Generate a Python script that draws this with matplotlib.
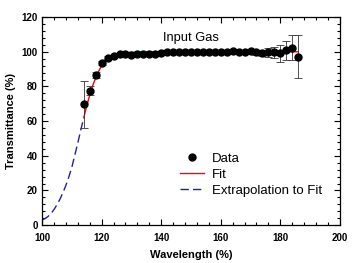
import numpy as np
import matplotlib.pyplot as plt
from matplotlib.ticker import MultipleLocator
from matplotlib.lines import Line2D

# measured data (every 2 nm from 114 to 186)
wl = np.arange(114, 188, 2)
trans = [69.6, 77.5, 86.6, 93.7, 96.5, 97.7, 98.5, 98.7, 98.2, 98.5, 98.7, 99.0,
         99.0, 99.4, 99.6, 99.7, 99.8, 99.9, 100.0, 100.0, 100.1, 100.0, 100.0, 100.1,
         100.0, 100.2, 100.1, 100.0, 100.2, 99.6, 99.4, 99.6, 99.6, 99.1, 100.8, 102.3, 97.1]
err = [13.5, 2.7, 1.5, 1.2, 0.8, 0.6, 0.5, 0.5, 0.5, 0.5, 0.5, 0.5,
       0.5, 0.5, 0.5, 0.5, 0.5, 0.5, 0.5, 0.5, 0.5, 0.5, 0.5, 0.5,
       0.5, 0.6, 0.7, 0.8, 1.0, 1.3, 1.6, 2.5, 3.0, 5.0, 5.4, 7.3, 12.4]

# fit curve
fit_wl = [114, 115, 116, 117, 118, 119, 120, 121, 122, 123, 124, 126, 128, 130, 135, 140, 150, 160, 170, 180, 186]
fit_t = [62.0, 69.0, 75.0, 80.5, 85.0, 88.8, 92.0, 94.3, 96.0, 97.2, 98.0, 99.0, 99.5, 99.7, 99.9, 100.0, 100.0, 100.0, 100.0, 100.0, 100.0]

# extrapolation of the fit below the measured range
ext_wl = [100, 101, 102, 103, 104, 105, 106, 107, 108, 109, 110, 111, 112, 113, 114]
ext_t = [3.0, 3.8, 5.0, 6.8, 9.0, 11.8, 15.0, 18.8, 23.0, 28.0, 33.5, 40.5, 47.5, 55.0, 62.0]

plt.rcParams['font.family'] = ['Liberation Sans', 'DejaVu Sans']

fig = plt.figure(figsize=(3.54, 2.63), dpi=100)
ax = fig.add_axes([0.119, 0.144, 0.841, 0.791])

ax.plot(ext_wl, ext_t, color='#22229a', lw=1.0, dashes=(6, 3), zorder=2)
ax.plot(fit_wl, fit_t, color='red', lw=1.0, zorder=3)
ax.errorbar(wl, trans, yerr=err, fmt='o', color='black', ms=5, ecolor='#333333',
            elinewidth=0.6, capsize=3, capthick=0.6, zorder=4)

ax.set_xlim(100, 200)
ax.set_ylim(0, 120)
ax.xaxis.set_major_locator(MultipleLocator(20))
ax.xaxis.set_minor_locator(MultipleLocator(4))
ax.yaxis.set_major_locator(MultipleLocator(20))
ax.yaxis.set_minor_locator(MultipleLocator(4))
ax.tick_params(which='both', direction='in', top=True, right=True, width=0.8)
ax.tick_params(which='major', length=4, labelsize=7, pad=3)
ax.tick_params(axis='x', which='major', pad=5.5)
ax.tick_params(which='minor', length=2)
for lab in ax.get_xticklabels() + ax.get_yticklabels():
    lab.set_fontweight('bold')
for s in ax.spines.values():
    s.set_linewidth(0.9)

ax.set_xlabel('Wavelength (%)', fontsize=8, fontweight='bold', labelpad=5)
ax.set_ylabel('Transmittance (%)', fontsize=8, fontweight='bold', labelpad=4)
ax.text(150, 108, 'Input Gas', fontsize=9.3, ha='center', va='center')

handles = [Line2D([], [], ls='none', marker='o', color='black', ms=5),
           Line2D([], [], color='red', lw=1.0),
           Line2D([], [], color='#22229a', lw=1.0, dashes=(6, 3))]
labels = ['Data', 'Fit', 'Extrapolation to Fit']
ax.legend(handles, labels, loc='upper left', bbox_to_anchor=(0.463, 0.35),
          frameon=False, fontsize=9.5, handlelength=1.8, borderpad=0, borderaxespad=0,
          labelspacing=0.3, handletextpad=0.6)

fig.savefig('out.png', dpi=100)
